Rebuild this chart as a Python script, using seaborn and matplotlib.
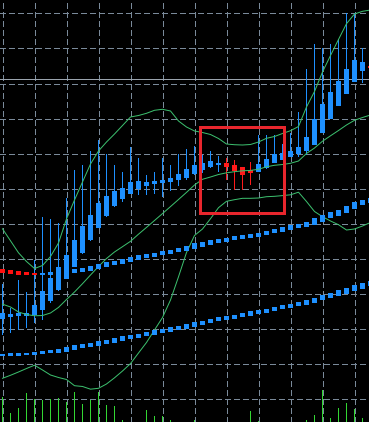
import numpy as np
import pandas as pd
import matplotlib
matplotlib.use("Agg")
import matplotlib.pyplot as plt
from matplotlib.patches import Rectangle
import seaborn as sns

# ---------------- data ----------------
bar_index = list(range(47))

open_ = [32.99, 33.48, 33.76, 33.85, 34.05, 35.47, 38.04, 41.17, 44.30, 47.81,
         51.63, 55.41, 58.92, 62.25, 65.10, 67.09, 68.52, 69.94, 70.80, 71.37,
         71.65, 71.94, 72.51, 73.16, 74.13, 75.36, 76.30, 76.87, 77.44, 76.78,
         76.13, 75.36, 74.87, 75.84, 77.27, 78.21, 79.15, 79.92, 80.86, 82.48,
         85.98, 89.89, 93.59, 97.01, 100.51, 103.65, 105.07]
close = [34.70, 34.33, 34.53, 34.70, 36.90, 40.97, 44.67, 47.81, 51.14, 55.41,
         59.40, 62.54, 66.04, 68.04, 69.37, 70.31, 72.02, 72.22, 72.02, 72.31,
         72.51, 73.08, 74.22, 75.64, 76.78, 77.44, 77.92, 77.44, 76.30, 75.16,
         73.93, 74.59, 77.07, 78.49, 79.92, 80.20, 80.86, 82.00, 84.84, 89.89,
         94.16, 97.49, 100.71, 104.13, 106.70, 106.21, 104.50]
high = [42.79, 35.96, 44.02, 40.69, 49.72, 61.88, 61.31, 60.17, 67.29, 75.36,
        76.78, 80.86, 83.90, 79.92, 76.78, 74.87, 82.00, 78.86, 73.93, 74.87,
        78.86, 76.78, 79.92, 81.34, 82.19, 79.63, 80.77, 79.35, 78.69, 78.21,
        76.30, 77.55, 85.33, 85.33, 85.33, 82.76, 85.81, 91.80, 104.13, 111.25,
        110.03, 111.25, 112.59, 120.00, 120.17, 110.03, 105.84]
low = [28.35, 29.00, 29.77, 30.26, 31.85, 32.62, 37.55, 40.97, 44.22, 47.58,
       51.43, 55.27, 58.83, 62.05, 64.73, 66.33, 68.43, 68.23, 68.23, 68.52,
       67.75, 69.37, 70.80, 72.51, 73.93, 74.42, 75.84, 74.87, 72.51, 69.66,
       69.66, 71.08, 74.79, 75.78, 77.21, 78.12, 79.06, 79.15, 79.63, 82.39,
       85.90, 89.80, 93.51, 96.92, 100.43, 100.06, 103.85]

bb_upper = [58.60, 55.19, 51.77, 49.29, 47.29, 48.15, 50.71, 54.56, 61.40, 66.81,
            71.94, 77.07, 80.77, 83.33, 85.61, 88.03, 90.46, 90.88, 91.51, 92.37,
            92.65, 92.17, 89.32, 87.61, 86.47, 86.04, 85.47, 84.33, 82.76, 82.56,
            82.48, 82.62, 83.33, 84.39, 84.90, 85.76, 86.55, 87.75, 93.31, 97.72,
            103.28, 107.98, 112.54, 117.04, 119.80, 120.57, 120.94]
bb_middle = [37.12, 36.33, 34.90, 34.19, 33.82, 33.90, 34.62, 36.21, 38.46, 40.60,
             42.96, 45.44, 47.86, 50.14, 52.00, 53.51, 55.04, 57.07, 59.00, 60.97,
             62.94, 64.93, 66.95, 68.98, 71.08, 72.71, 73.36, 74.07, 74.56, 74.87,
             75.13, 75.24, 75.56, 76.27, 76.70, 76.92, 77.27, 77.92, 80.06, 81.62,
             83.56, 85.10, 86.61, 88.18, 89.52, 90.31, 91.03]
bb_lower = [16.01, 16.87, 17.81, 18.80, 19.74, 18.38, 16.95, 16.24, 15.67, 13.90,
            13.68, 12.91, 13.16, 14.39, 16.15, 18.09, 20.20, 23.22, 26.21, 29.77,
            33.33, 38.32, 44.93, 51.85, 56.70, 58.55, 61.48, 64.62, 66.44, 66.90,
            67.29, 67.29, 67.38, 67.75, 67.86, 68.06, 68.29, 69.03, 66.38, 63.53,
            62.05, 60.83, 59.77, 58.26, 58.55, 59.40, 60.40]

ma_fast = [46.58, 46.30, 46.01, 45.81, 45.64, 45.73, 45.93, 46.15, 46.30, 46.58,
           46.95, 47.35, 47.95, 48.43, 48.92, 49.37, 49.92, 50.37, 50.86, 51.23,
           51.71, 52.08, 52.56, 52.99, 53.70, 54.19, 54.64, 55.21, 55.50, 55.90,
           56.27, 56.64, 56.92, 57.41, 57.98, 58.46, 58.92, 59.40, 59.89, 60.63,
           61.60, 62.45, 63.19, 64.10, 65.24, 66.10, 66.61]
ma_slow = [22.65, 22.74, 22.85, 22.94, 23.08, 23.42, 23.51, 23.79, 24.27, 24.73,
           25.21, 25.41, 25.87, 26.35, 26.84, 27.29, 27.78, 28.15, 28.55, 29.00,
           29.49, 29.97, 30.43, 30.77, 31.40, 31.77, 32.34, 32.82, 33.19, 33.48,
           34.05, 34.42, 34.99, 35.27, 35.76, 36.24, 36.61, 37.18, 37.66, 38.23,
           38.98, 39.55, 40.31, 40.88, 41.65, 42.31, 42.96]

volume = [25, 9, 14, 29, 23, 22, 23, 24, 20, 30,
          18, 22, 30, 17, 16, 2, 0, 0, 12, 6,
          6, 2, 0, 0, 2, 0, 0, 0, 0, 0,
          0, 11, 1, 0, 0, 0, 0, 0, 2, 7,
          32, 4, 14, 19, 13, 4, 0]

price_line = 101.20
box_bars = (24.69, 35.21)
box_prices = (63.19, 87.47)

# ---------------- figure ----------------
W, H = 369, 422
PX = 0.2849          # price units per pixel
ONE_PX_X = 1 / 8     # bar units per pixel
fig = plt.figure(figsize=(W / 72, H / 72), dpi=72, facecolor="black")
ax = fig.add_axes([0, 0, 1, 1])
ax.set_facecolor("black")
for s in ax.spines.values():
    s.set_visible(False)

x = np.array(bar_index, dtype=float)
o = np.array(open_); c = np.array(close)
hi = np.array(high); lo = np.array(low)

ax.set_xlim(-0.3125, -0.3125 + W / 8)
ax.set_ylim(3.56, 123.79)

# grid
ax.set_xticks(np.arange(0, 46, 4))
ax.set_yticks(np.arange(10, 121, 10))
ax.tick_params(length=0, labelbottom=False, labelleft=False)
ax.grid(True, color="#7a8a9a", linestyle=(0, (5, 3)), linewidth=1, antialiased=False)
ax.set_axisbelow(True)

# price line
ax.axhline(price_line, color="#9aa4ae", lw=1, zorder=1.5, antialiased=False)

# candles
bull_c, bear_c = "#1e90ff", "#ff1a1a"
cols = np.where(c >= o, bull_c, bear_c)
ax.bar(x, hi - lo, bottom=lo, width=ONE_PX_X, color=cols, linewidth=0,
       zorder=2, antialiased=False)
ax.bar(x, np.maximum(np.abs(c - o), 0.5), bottom=np.minimum(o, c), width=0.625,
       color=cols, linewidth=0, zorder=2.1, antialiased=False)

# bollinger bands
bands = pd.DataFrame({
    "bar": bar_index * 3,
    "value": bb_upper + bb_middle + bb_lower,
    "band": ["upper"] * 47 + ["middle"] * 47 + ["lower"] * 47,
})
sns.lineplot(data=bands, x="bar", y="value", hue="band", units="band",
             estimator=None, palette=["#3cbf6e"] * 3, linewidth=1,
             legend=False, ax=ax, zorder=3)


# moving averages drawn as one block per bar
def ma_blocks(vals):
    v = np.array(vals)
    grad = np.gradient(v)
    h = 2 * PX + 1.5 * np.abs(grad)
    colors = np.where(grad < 0, "#ff1010", "#1e90ff")
    ax.bar(x, h, bottom=v - h / 2, width=0.625, color=colors, linewidth=0,
           zorder=4, antialiased=False)


ma_blocks(ma_fast)
ma_blocks(ma_slow)

# highlighted box
ax.add_patch(Rectangle((box_bars[0], box_prices[0]), box_bars[1] - box_bars[0],
                       box_prices[1] - box_prices[0], fill=False,
                       edgecolor="#e8262d", linewidth=3, joinstyle="miter", zorder=5))

# volume
ax2 = ax.twinx()
ax2.set_ylim(0, H)
ax2.axis("off")
vol = np.array(volume)
m = vol > 0
ax2.bar(x[m], vol[m], width=ONE_PX_X, color="#33d633", linewidth=0, antialiased=False)

fig.savefig("out.png", dpi=72, facecolor="black")
